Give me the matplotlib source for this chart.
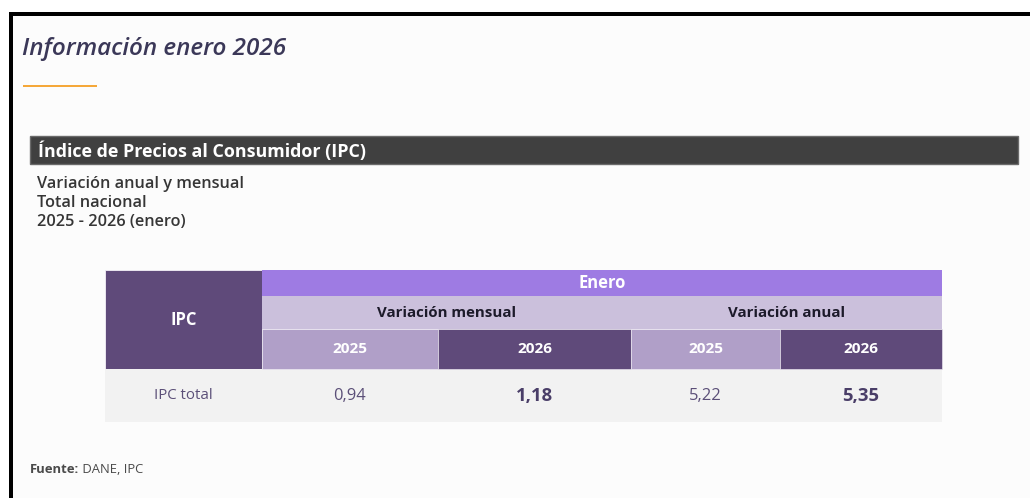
import matplotlib
matplotlib.use("Agg")
import matplotlib.pyplot as plt
from matplotlib.patches import Rectangle

# ---- data ----
title = "Información enero 2026"
section = "Índice de Precios al Consumidor (IPC)"
subtitle = ["Variación anual y mensual", "Total nacional", "2025 - 2026 (enero)"]
row_header = "IPC"
period = "Enero"
groups = ["Variación mensual", "Variación anual"]
years = ["2025", "2026", "2025", "2026"]
row_label = "IPC total"
values = [0.94, 1.18, 5.22, 5.35]
bold_cols = [False, True, False, True]
source_bold = "Fuente:"
source_rest = " DANE, IPC"

FONT = ["Open Sans", "DejaVu Sans"]
W, H = 1030, 498
fig = plt.figure(figsize=(W / 100, H / 100), dpi=100)
fig.patch.set_facecolor("white")
ax = fig.add_axes([0, 0, 1, 1])
ax.set_xlim(0, W)
ax.set_ylim(H, 0)
ax.axis("off")

def px(v):
    return v * 0.72

# page background + borders
ax.add_patch(Rectangle((12, 14), W - 12, H - 14, facecolor="#fcfcfc", edgecolor="none"))
ax.add_patch(Rectangle((9, 12), W - 9, 3.5, facecolor="black", edgecolor="none"))
ax.add_patch(Rectangle((9, 12), 4, H - 12, facecolor="black", edgecolor="none"))

ax.text(22, 49, title, fontsize=px(24.3), style="italic", color="#3b3858",
        family=FONT, va="center", ha="left", weight="semibold")
ax.add_patch(Rectangle((23, 85), 74, 2.2, facecolor="#f5a83a", edgecolor="none"))

# section bar
ax.add_patch(Rectangle((30, 136), 988, 28, facecolor="#404040", edgecolor="#6a6a6a", lw=1))
ax.text(38, 151, section, fontsize=px(17.9), weight="bold", color="white",
        family=FONT, va="center", ha="left")
for i, s in enumerate(subtitle):
    ax.text(37, 184 + 19 * i, s, fontsize=px(16.2), color="#363636",
            family=FONT, va="center", ha="left", weight="semibold")

# table geometry
x0, x1 = 105, 262
col_edges = [262, 438, 631, 780, 942]
y_enero, y_grp, y_year, y_data, y_end = 270, 296, 329, 369, 422
dark = "#5f4a7a"
light = "#b09fc8"
lav = "#9e7be3"
grp_c = "#cbc0dc"
edge = "#f4f0f8"

ax.add_patch(Rectangle((x0, y_enero), x1 - x0, y_data - y_enero, facecolor=dark, edgecolor=edge, lw=0.6))
ax.text((x0 + x1) / 2, (y_enero + y_data) / 2, row_header, fontsize=px(16.5), weight="bold",
        color="white", family=FONT, ha="center", va="center")

ax.add_patch(Rectangle((x1, y_enero), col_edges[-1] - x1, y_grp - y_enero, facecolor=lav, edgecolor="none"))
ax.text((x1 + col_edges[-1]) / 2, (y_enero + y_grp) / 2, period, fontsize=px(16.5), weight="bold",
        color="white", family=FONT, ha="center", va="center")

for g, name in enumerate(groups):
    a, b = col_edges[2 * g], col_edges[2 * g + 2]
    ax.add_patch(Rectangle((a, y_grp), b - a, y_year - y_grp, facecolor=grp_c, edgecolor="none"))
    ax.text((a + b) / 2, (y_grp + y_year) / 2, name, fontsize=px(15), weight="bold",
            color="#1c1a2a", family=FONT, ha="center", va="center")

ax.add_patch(Rectangle((x0, y_data), col_edges[-1] - x0, y_end - y_data, facecolor="#f2f2f2", edgecolor="none"))
ax.text((x0 + x1) / 2, (y_data + y_end) / 2, row_label, fontsize=px(15), color="#5b4f78",
        family=FONT, ha="center", va="center")

for i, (yr, v, bd) in enumerate(zip(years, values, bold_cols)):
    a, b = col_edges[i], col_edges[i + 1]
    ax.add_patch(Rectangle((a, y_year), b - a, y_data - y_year,
                           facecolor=dark if yr == "2026" else light, edgecolor=edge, lw=0.4))
    ax.text((a + b) / 2, (y_year + y_data) / 2, yr, fontsize=px(15.4), weight="bold",
            color="white", family=FONT, ha="center", va="center")
    ax.text((a + b) / 2, (y_data + y_end) / 2, f"{v:.2f}".replace(".", ","),
            fontsize=px(18.5 if bd else 16.5), weight="bold" if bd else "normal",
            color="#4a3e68" if bd else "#5b4f78", family=FONT, ha="center", va="center")

t = ax.text(30, 469, source_bold, fontsize=px(13), weight="bold", color="#4a4a4a",
            family=FONT, ha="left", va="center")
fig.canvas.draw()
bb = t.get_window_extent()
ax.text(30 + bb.width, 469, source_rest, fontsize=px(13), color="#4a4a4a",
        family=FONT, ha="left", va="center")

fig.savefig("out.png", dpi=100, facecolor=fig.get_facecolor())
